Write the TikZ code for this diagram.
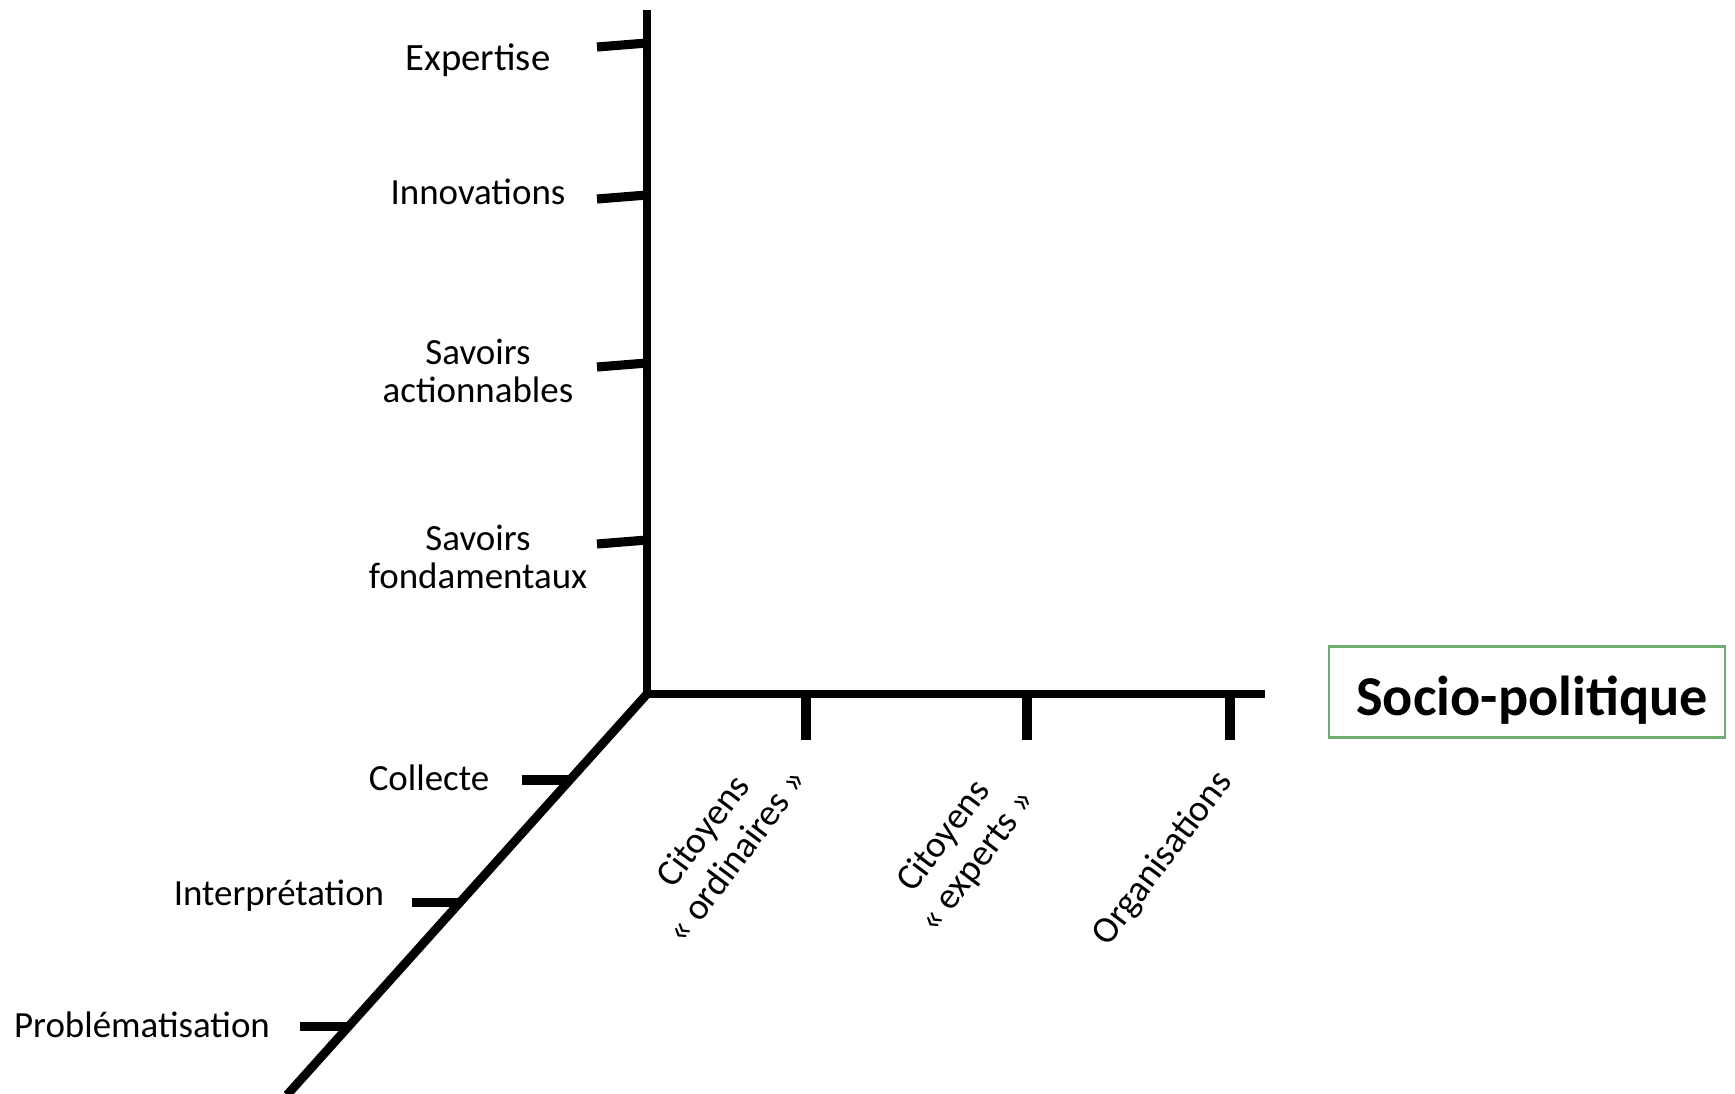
\documentclass[tikz,border=0pt]{standalone}
\usepackage{fontspec}
\setmainfont{Carlito}
\usetikzlibrary{calc}
\definecolor{boxgreen}{RGB}{112,173,112}
\begin{document}
\begin{tikzpicture}[x=0.01cm,y=-0.01cm,
  axis/.style={line width=2.5pt},
  tickmark/.style={line width=2.6pt},
  lab/.style={font=\fontsize{10.5}{11}\selectfont, inner sep=0pt, align=center},
  rlab/.style={inner sep=0pt, align=center, rotate=53, font=\fontsize{10.6}{11.9}\selectfont}]
\useasboundingbox (0,0) rectangle (1735,1093);
\fill[white] (0,0) rectangle (1735,1093);
% axes
\coordinate (O) at (647,694);
\coordinate (Ytop) at (647,10);
\coordinate (Xend) at (1265,694);
\coordinate (Zend) at (287,1095);
\draw[axis] (Ytop) -- (O) -- (Xend);
\draw[axis] (O) -- (Zend);
% vertical ticks
\foreach \n/\y in {tE/43,tI/195,tA/363,tF/540}{
  \coordinate (\n) at (647,\y);
  \coordinate (\n l) at (597,\y+4);
  \draw[tickmark] (\n) -- (\n l);
}
% horizontal ticks
\foreach \n/\x in {tC/806,tX/1027,tO/1230}{
  \coordinate (\n) at (\x,694);
  \coordinate (\n b) at (\x,740);
  \draw[tickmark] (\n) -- (\n b);
}
% diagonal ticks
\foreach \n/\t in {tCo/0.2145,tIn/0.519,tPr/0.830}{
  \coordinate (\n) at ($(O)!\t!(Zend)$);
  \coordinate (\n l) at ($(\n)+(-48,0)$);
  \draw[tickmark] (\n) -- (\n l);
}
% labels
\node[lab, font=\fontsize{11}{12}\selectfont, anchor=base] (expertise) at (478,70) {Expertise};
\node[lab, anchor=base] (innov) at (478,204) {Innovations};
\node[lab] (sact) at (478,371) {Savoirs\\actionnables};
\node[lab] (sfond) at (478,557) {Savoirs\\fondamentaux};
\node[lab, anchor=base] (collecte) at (429,790) {Collecte};
\node[lab, anchor=base] (interp) at (279,905) {Interprétation};
\node[lab, anchor=base] (probl) at (142,1037) {Problématisation};
\node[rlab] (cord) at (719,843) {Citoyens\\« ordinaires »};
\node[rlab] (cexp) at (961,849) {Citoyens\\« experts »};
\node[rlab] (org) at (1163,859) {Organisations};
\node[draw=boxgreen, line width=0.7pt, minimum width=3.96cm, minimum height=0.91cm,
  inner sep=0pt, font=\bfseries\fontsize{16}{18}\selectfont] (socio) at (1527,692)
  {\raisebox{-0.08cm}[\height][\depth]{Socio-politique}\hspace*{-0.1cm}};
\end{tikzpicture}
\end{document}
